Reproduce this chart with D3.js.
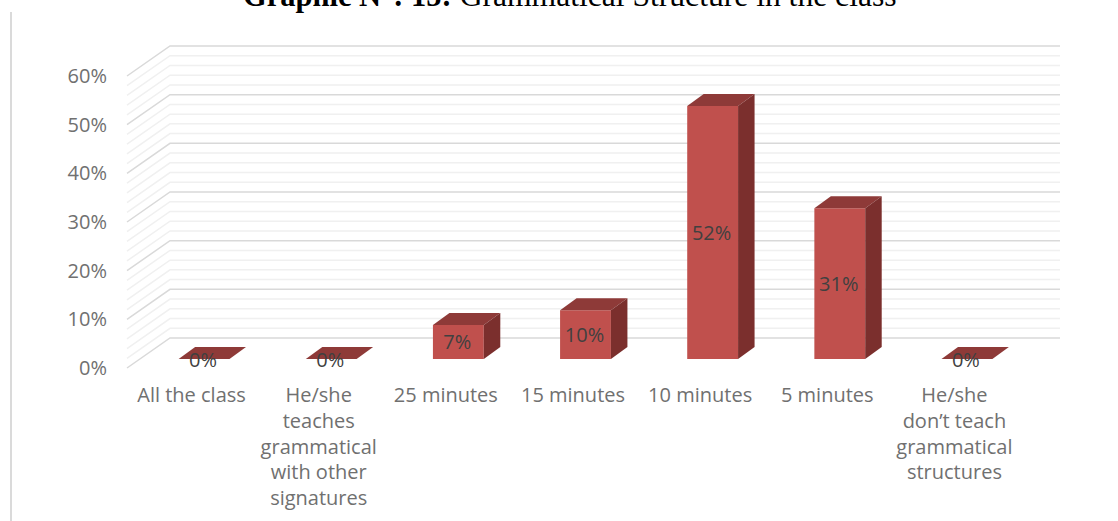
<!DOCTYPE html>
<html>
<head>
<meta charset="utf-8">
<script src="https://cdn.jsdelivr.net/npm/d3@7"></script>
<style>
    html, body { margin: 0; padding: 0; background: #fff; overflow: hidden; }
    text { font-family: "Open Sans", sans-serif; }
</style>
</head>
<body>
<div id="chart"></div>
<script>
var categories = [
    "All the class",
    "He/she teaches grammatical with other signatures",
    "25 minutes",
    "15 minutes",
    "10 minutes",
    "5 minutes",
    "He/she don’t teach grammatical structures"
];
var values = [0, 0, 7, 10, 52, 31, 0];
var categoryLines = [
    ["All the class"],
    ["He/she", "teaches", "grammatical", "with other", "signatures"],
    ["25 minutes"],
    ["15 minutes"],
    ["10 minutes"],
    ["5 minutes"],
    ["He/she", "don’t teach", "grammatical", "structures"]
];
var yTicks = [0, 10, 20, 30, 40, 50, 60];
var minorTicks = [2, 4, 6, 8, 12, 14, 16, 18, 22, 24, 26, 28, 32, 34, 36, 38, 42, 44, 46, 48, 52, 54, 56, 58];

var width = 1118, height = 521;

// 3D offsets: wall depth, where the bars stand on the floor, and bar depth
var wallDx = 43, wallDy = -30;
var barDx = 13.5, barDy = -9;
var depthDx = 16.5, depthDy = -12;

var svg = d3.select("#chart").append("svg")
    .attr("width", width)
    .attr("height", height);

var x = d3.scaleBand()
    .domain(categories)
    .range([127, 1017])
    .paddingInner(0.6)
    .paddingOuter(0.3);

var y = d3.scaleLinear()
    .domain([0, 60])
    .range([368, 76]);

// page rule on the left
svg.append("line")
    .attr("x1", 11).attr("x2", 11)
    .attr("y1", 12).attr("y2", height)
    .attr("stroke", "#dadada")
    .attr("stroke-width", 2);

// title, cut by the top edge
var title = svg.append("text")
    .attr("x", 243)
    .attr("y", 5.5)
    .style("font-family", "'Liberation Serif', serif")
    .attr("fill", "#000");
title.append("tspan").attr("font-weight", "bold").style("font-size", "30.5px").text("Graphic N°: 15:");
title.append("tspan").style("font-size", "31.6px").text(" Grammatical Structure in the class");

// gridlines: side wall then back wall
function gridPath(d) {
    var x0 = x.range()[0], x1 = x.range()[1];
    return "M" + x0 + "," + y(d) +
        "L" + (x0 + wallDx) + "," + (y(d) + wallDy) +
        "L" + (x1 + wallDx) + "," + (y(d) + wallDy);
}

svg.append("g").selectAll("path")
    .data(minorTicks)
    .enter().append("path")
    .attr("d", gridPath)
    .attr("fill", "none")
    .attr("stroke", "#f0f0f0")
    .attr("stroke-width", 1.5);

svg.append("g").selectAll("path")
    .data(yTicks)
    .enter().append("path")
    .attr("d", gridPath)
    .attr("fill", "none")
    .attr("stroke", "#d9d9d9")
    .attr("stroke-width", 1.5);

// y axis labels
var yAxis = svg.append("g")
    .attr("transform", "translate(115,0)")
    .call(d3.axisLeft(y).tickValues(yTicks).tickSize(0).tickPadding(8).tickFormat(function(d) {
        return d + "%";
    }));
yAxis.select(".domain").remove();
yAxis.selectAll("text")
    .style("font-family", "'Open Sans', sans-serif")
    .style("font-size", "20px")
    .attr("fill", "#707070");

// category labels
var labels = svg.append("g").selectAll("text")
    .data(categories)
    .enter().append("text")
    .attr("text-anchor", "middle")
    .style("font-size", "20px")
    .attr("fill", "#707070");

labels.selectAll("tspan")
    .data(function(d, i) { return categoryLines[i]; })
    .enter().append("tspan")
    .attr("x", function() { return x(this.parentNode.__data__) + x.bandwidth() / 2 + 1; })
    .attr("y", function(d, i) { return 402 + i * 25.8; })
    .text(function(d) { return d; });

// bars: front face, top and side
var bars = svg.append("g").selectAll("g")
    .data(values)
    .enter().append("g");

function barLeft(i) { return x(categories[i]) + barDx; }
function barRight(i) { return barLeft(i) + x.bandwidth(); }
function barBase() { return y(0) + barDy; }
function barTop(d) { return y(d) + barDy; }

function poly(points) {
    return points.map(function(p) { return p.join(","); }).join(" ");
}

bars.append("polygon")
    .attr("fill", "#c0504d")
    .attr("points", function(d, i) {
        return poly([[barLeft(i), barTop(d)], [barRight(i), barTop(d)], [barRight(i), barBase()], [barLeft(i), barBase()]]);
    });

bars.append("polygon")
    .attr("fill", "#8e3a38")
    .attr("points", function(d, i) {
        return poly([
            [barLeft(i), barTop(d)],
            [barLeft(i) + depthDx, barTop(d) + depthDy],
            [barRight(i) + depthDx, barTop(d) + depthDy],
            [barRight(i), barTop(d)]
        ]);
    });

bars.append("polygon")
    .attr("fill", "#7b2f2d")
    .attr("points", function(d, i) {
        return poly([
            [barRight(i), barTop(d)],
            [barRight(i) + depthDx, barTop(d) + depthDy],
            [barRight(i) + depthDx, barBase() + depthDy],
            [barRight(i), barBase()]
        ]);
    });

// value labels, centred on the front face
bars.append("text")
    .attr("x", function(d, i) { return (barLeft(i) + barRight(i)) / 2 - 1; })
    .attr("y", function(d) { return (barTop(d) + barBase()) / 2 + 7.5; })
    .attr("text-anchor", "middle")
    .style("font-size", "20px")
    .attr("fill", "#404040")
    .text(function(d) { return d + "%"; });
</script>
</body>
</html>
